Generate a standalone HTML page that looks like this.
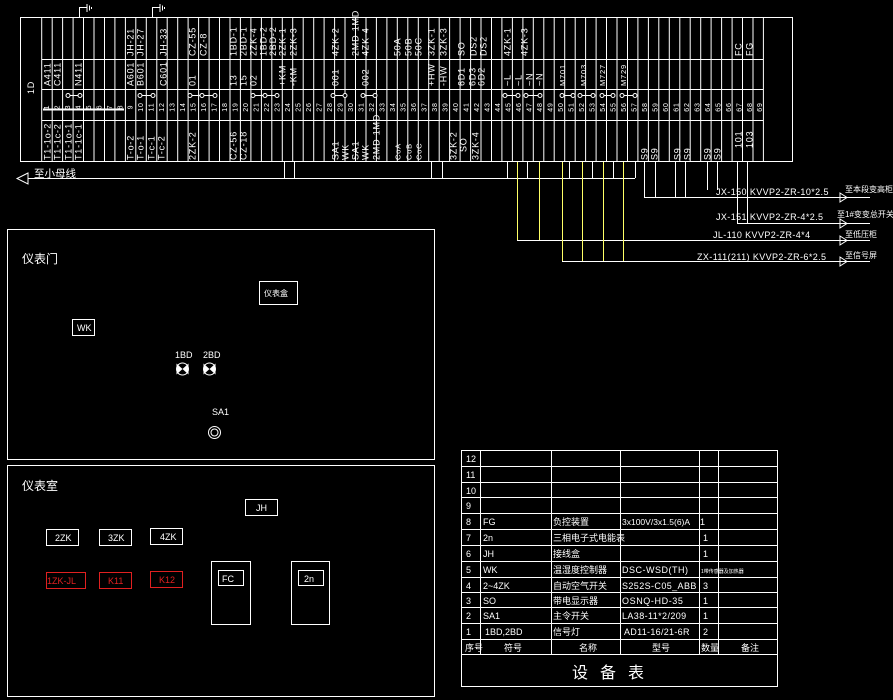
<!DOCTYPE html>
<html><head><meta charset="utf-8"><style>
html,body{margin:0;padding:0;background:#000;}
svg{display:block;}
text{font-family:"Liberation Sans","Noto Sans CJK SC",sans-serif;fill:#fff;}
.rl text{letter-spacing:0.8px;}
</style></head><body>
<svg width="893" height="700" viewBox="0 0 893 700" xmlns="http://www.w3.org/2000/svg">
<rect width="893" height="700" fill="#000"/>
<g stroke="#fff" stroke-width="1" fill="none">
<rect x="20.5" y="17.5" width="772" height="144"/>
<path d="M41.7 17V162M52.2 17V162M62.6 17V162M73.1 17V162M83.5 17V162M94 17V162M104.5 17V162M114.9 17V162M125.4 17V162M135.8 17V162M146.3 17V162M156.8 17V162M167.2 17V162M177.7 17V162M188.1 17V162M198.6 17V162M209.1 17V162M219.5 17V162M230 17V162M240.4 17V162M250.9 17V162M261.4 17V162M271.8 17V162M282.3 17V162M292.7 17V162M303.2 17V162M313.7 17V162M324.1 17V162M334.6 17V162M345 17V162M355.5 17V162M366 17V162M376.4 17V162M386.9 17V162M397.3 17V162M407.8 17V162M418.3 17V162M428.7 17V162M439.2 17V162M449.6 17V162M460.1 17V162M470.6 17V162M481 17V162M491.5 17V162M501.9 17V162M512.4 17V162M522.9 17V162M533.3 17V162M543.8 17V162M554.2 17V162M564.7 17V162M575.2 17V162M585.6 17V162M596.1 17V162M606.5 17V162M617 17V162M627.5 17V162M637.9 17V162M648.4 17V162M658.8 17V162M669.3 17V162M679.8 17V162M690.2 17V162M700.7 17V162M711.1 17V162M721.6 17V162M732.1 17V162M742.5 17V162M753 17V162M763.4 17V162"/>
<path d="M41.7 59.5H763.4M41.7 89.5H763.4M41.7 120.5H763.4"/>
<path d="M79.5 17V7.5H87M87 4V12M89.5 5.5V10.5M91.5 7V9M152.5 17V7.5H160M160 4V12M162.5 5.5V10.5M164.5 7V9"/>
<path d="M43 109.5H124" stroke-width="2"/>
<path d="M68 95.5H80M140 95.5H153M190 95.5H215M253 95.5H277M333 95.5H345M363 95.5H375M505 95.5H518M526 95.5H540M562 95.5H573M580 95.5H593M602 95.5H613M622 95.5H635"/>
<g fill="#000">
<circle cx="68" cy="95.5" r="2"/><circle cx="80" cy="95.5" r="2"/><circle cx="140" cy="95.5" r="2"/><circle cx="153" cy="95.5" r="2"/>
<circle cx="190" cy="95.5" r="2"/><circle cx="202" cy="95.5" r="2"/><circle cx="215" cy="95.5" r="2"/>
<circle cx="253" cy="95.5" r="2"/><circle cx="265" cy="95.5" r="2"/><circle cx="277" cy="95.5" r="2"/>
<circle cx="333" cy="95.5" r="2"/><circle cx="345" cy="95.5" r="2"/><circle cx="363" cy="95.5" r="2"/><circle cx="375" cy="95.5" r="2"/>
<circle cx="505" cy="95.5" r="2"/><circle cx="518" cy="95.5" r="2"/><circle cx="526" cy="95.5" r="2"/><circle cx="540" cy="95.5" r="2"/>
<circle cx="562" cy="95.5" r="2"/><circle cx="573" cy="95.5" r="2"/><circle cx="580" cy="95.5" r="2"/><circle cx="593" cy="95.5" r="2"/>
<circle cx="602" cy="95.5" r="2"/><circle cx="613" cy="95.5" r="2"/><circle cx="622" cy="95.5" r="2"/><circle cx="635" cy="95.5" r="2"/>
</g>
<path d="M28 178.5H520M284.5 162V178M294.5 162V178M431.5 162V178M442.5 162V178"/>
<path d="M28 173L17 178.5L28 184Z"/>
<path d="M443 178.5H635M507.5 162V178M527.5 162V178M569.5 162V178M592.5 162V178M613.5 162V178M635.5 162V178"/>
<path d="M644.5 162V197.5H870M655.5 162V197M675.5 162V197M685.5 162V197M707.5 162V190M717.5 162V190"/>
<path d="M737.5 162V223.5H870M747.5 162V223"/>
<path d="M517 240.5H870M562 261.5H870"/>
<path d="M840 193l7 4.5l-7 4.5zM840 219l7 4.5l-7 4.5zM840 236l7 4.5l-7 4.5zM840 257l7 4.5l-7 4.5z"/>
</g>
<g stroke="#ffff66" stroke-width="1" fill="none">
<path d="M517.5 162V240M539.5 162V240M562.5 162V261M582.5 162V261M603.5 162V261M623.5 162V261"/>
</g>
<g font-size="9" class="rl">
<text transform="translate(34,94) rotate(-90)">1D</text>
<g text-anchor="start">
<text transform="translate(133.5,56) rotate(-90)">JH-21</text>
<text transform="translate(143.5,56) rotate(-90)">JH-27</text>
<text transform="translate(166.5,56) rotate(-90)">JH-33</text>
<text transform="translate(195.5,56) rotate(-90)">CZ-55</text>
<text transform="translate(206.5,56) rotate(-90)">CZ-8</text>
<text transform="translate(236.5,56) rotate(-90)">1BD-1</text>
<text transform="translate(246.5,56) rotate(-90)">2BD-1</text>
<text transform="translate(256.5,56) rotate(-90)">2ZK-4</text>
<text transform="translate(266.5,56) rotate(-90)">1BD-2</text>
<text transform="translate(276,56) rotate(-90)">2BD-2</text>
<text transform="translate(285.5,56) rotate(-90)">2ZK-1</text>
<text transform="translate(296.5,56) rotate(-90)">2ZK-3</text>
<text transform="translate(338.5,56) rotate(-90)">4ZK-2</text>
<text transform="translate(358.5,56) rotate(-90)" letter-spacing="0">2MD 1MD</text>
<text transform="translate(368.5,56) rotate(-90)">4ZK-4</text>
<text transform="translate(400.5,56) rotate(-90)">50A</text>
<text transform="translate(411.5,56) rotate(-90)">50B</text>
<text transform="translate(421.5,56) rotate(-90)">50C</text>
<text transform="translate(434.5,56) rotate(-90)">3ZK-1</text>
<text transform="translate(446.5,56) rotate(-90)">3ZK-3</text>
<text transform="translate(464.5,56) rotate(-90)">SO</text>
<text transform="translate(476.5,56) rotate(-90)">DS2</text>
<text transform="translate(486.5,56) rotate(-90)">DS2</text>
<text transform="translate(510.5,56) rotate(-90)">4ZK-1</text>
<text transform="translate(527.5,56) rotate(-90)">4ZK-3</text>
<text transform="translate(741.5,56) rotate(-90)">FC</text>
<text transform="translate(752.5,56) rotate(-90)">FG</text>
<text transform="translate(50.5,86) rotate(-90)">A411</text>
<text transform="translate(60.5,86) rotate(-90)">C411</text>
<text transform="translate(81.5,86) rotate(-90)">N411</text>
<text transform="translate(133.5,86) rotate(-90)">A601</text>
<text transform="translate(143.5,86) rotate(-90)">B601</text>
<text transform="translate(166.5,86) rotate(-90)">C601</text>
<text transform="translate(195.5,86) rotate(-90)">01</text>
<text transform="translate(236.5,86) rotate(-90)">13</text>
<text transform="translate(246.5,86) rotate(-90)">15</text>
<text transform="translate(256.5,86) rotate(-90)">02</text>
<text transform="translate(285.5,86) rotate(-90)">+KM</text>
<text transform="translate(296.5,86) rotate(-90)">-KM</text>
<text transform="translate(338.5,86) rotate(-90)">001</text>
<text transform="translate(368.5,86) rotate(-90)">002</text>
<text transform="translate(434.5,86) rotate(-90)">+HW</text>
<text transform="translate(446.5,86) rotate(-90)">-HW</text>
<text transform="translate(464.5,86) rotate(-90)">6D1</text>
<text transform="translate(475.5,86) rotate(-90)">6D3</text>
<text transform="translate(484.5,86) rotate(-90)">6D2</text>
<text transform="translate(510.5,86) rotate(-90)">~L</text>
<text transform="translate(521.5,86) rotate(-90)">~L</text>
<text transform="translate(532.5,86) rotate(-90)">~N</text>
<text transform="translate(542.5,86) rotate(-90)">~N</text>
<text transform="translate(565,86) rotate(-90)" font-size="7.5">M701</text>
<text transform="translate(586,86) rotate(-90)" font-size="7.5">M703</text>
<text transform="translate(605,86) rotate(-90)" font-size="7.5">M727</text>
<text transform="translate(626,86) rotate(-90)" font-size="7.5">M729</text>
<text transform="translate(50.5,160) rotate(-90)">T1-1o-2</text>
<text transform="translate(60.5,160) rotate(-90)">T1-1c-2</text>
<text transform="translate(71.5,160) rotate(-90)">T1-1o-1</text>
<text transform="translate(81.5,160) rotate(-90)">T1-1c-1</text>
<text transform="translate(133.5,160) rotate(-90)">T-o-2</text>
<text transform="translate(143.5,160) rotate(-90)">T-o-1</text>
<text transform="translate(154.5,160) rotate(-90)">T-c-1</text>
<text transform="translate(164.5,160) rotate(-90)">T-c-2</text>
<text transform="translate(195.5,160) rotate(-90)">2ZK-2</text>
<text transform="translate(236.5,160) rotate(-90)">CZ-56</text>
<text transform="translate(246.5,160) rotate(-90)">CZ-18</text>
<text transform="translate(338.5,160) rotate(-90)">SA1</text>
<text transform="translate(348.5,160) rotate(-90)">WK</text>
<text transform="translate(358.5,160) rotate(-90)">SA1</text>
<text transform="translate(368.5,160) rotate(-90)">WK</text>
<text transform="translate(379.5,160) rotate(-90)" letter-spacing="0">2MD 1MD</text>
<text transform="translate(400.5,160) rotate(-90)" font-size="7.5">CoA</text>
<text transform="translate(411.5,160) rotate(-90)" font-size="7.5">CoB</text>
<text transform="translate(421.5,160) rotate(-90)" font-size="7.5">CoC</text>
<text transform="translate(456.5,160) rotate(-90)">3ZK-2</text>
<text transform="translate(466.5,152) rotate(-90)">SO</text>
<text transform="translate(478.5,160) rotate(-90)">3ZK-4</text>
<text transform="translate(647.5,160) rotate(-90)">S9</text>
<text transform="translate(657.5,160) rotate(-90)">S9</text>
<text transform="translate(680.5,160) rotate(-90)">S9</text>
<text transform="translate(690.5,160) rotate(-90)">S9</text>
<text transform="translate(710.5,160) rotate(-90)">S9</text>
<text transform="translate(720.5,160) rotate(-90)">S9</text>
<text transform="translate(741.5,148) rotate(-90)">101</text>
<text transform="translate(752.5,148) rotate(-90)">103</text>
</g>
<g font-size="7" text-anchor="middle" letter-spacing="0">
<text transform="translate(49,107) rotate(-90)">1</text><text transform="translate(59.5,107) rotate(-90)">2</text><text transform="translate(70,107) rotate(-90)">3</text><text transform="translate(80.5,107) rotate(-90)">4</text><text transform="translate(91,107) rotate(-90)">5</text><text transform="translate(101.5,107) rotate(-90)">6</text><text transform="translate(112,107) rotate(-90)">7</text><text transform="translate(122.5,107) rotate(-90)">8</text><text transform="translate(132.5,107) rotate(-90)">9</text><text transform="translate(143,107) rotate(-90)">10</text>
<text transform="translate(153.5,107) rotate(-90)">11</text><text transform="translate(164,107) rotate(-90)">12</text><text transform="translate(174.5,107) rotate(-90)">13</text><text transform="translate(185,107) rotate(-90)">14</text><text transform="translate(195.5,107) rotate(-90)">15</text><text transform="translate(206,107) rotate(-90)">16</text><text transform="translate(216.5,107) rotate(-90)">17</text><text transform="translate(227,107) rotate(-90)">18</text><text transform="translate(237.5,107) rotate(-90)">19</text><text transform="translate(248,107) rotate(-90)">20</text>
<text transform="translate(258.5,107) rotate(-90)">21</text><text transform="translate(269,107) rotate(-90)">22</text><text transform="translate(279.5,107) rotate(-90)">23</text><text transform="translate(290,107) rotate(-90)">24</text><text transform="translate(300.5,107) rotate(-90)">25</text><text transform="translate(311,107) rotate(-90)">26</text><text transform="translate(321.5,107) rotate(-90)">27</text><text transform="translate(332,107) rotate(-90)">28</text><text transform="translate(342.5,107) rotate(-90)">29</text><text transform="translate(353,107) rotate(-90)">30</text>
<text transform="translate(363.5,107) rotate(-90)">31</text><text transform="translate(374,107) rotate(-90)">32</text><text transform="translate(384.5,107) rotate(-90)">33</text><text transform="translate(395,107) rotate(-90)">34</text><text transform="translate(405.5,107) rotate(-90)">35</text><text transform="translate(416,107) rotate(-90)">36</text><text transform="translate(426.5,107) rotate(-90)">37</text><text transform="translate(437,107) rotate(-90)">38</text><text transform="translate(447.5,107) rotate(-90)">39</text><text transform="translate(458,107) rotate(-90)">40</text>
<text transform="translate(468.5,107) rotate(-90)">41</text><text transform="translate(479,107) rotate(-90)">42</text><text transform="translate(489.5,107) rotate(-90)">43</text><text transform="translate(500,107) rotate(-90)">44</text><text transform="translate(510.5,107) rotate(-90)">45</text><text transform="translate(521,107) rotate(-90)">46</text><text transform="translate(531.5,107) rotate(-90)">47</text><text transform="translate(542,107) rotate(-90)">48</text><text transform="translate(552.5,107) rotate(-90)">49</text><text transform="translate(563,107) rotate(-90)">50</text>
<text transform="translate(573.5,107) rotate(-90)">51</text><text transform="translate(584,107) rotate(-90)">52</text><text transform="translate(594.5,107) rotate(-90)">53</text><text transform="translate(605,107) rotate(-90)">54</text><text transform="translate(615.5,107) rotate(-90)">55</text><text transform="translate(626,107) rotate(-90)">56</text><text transform="translate(636.5,107) rotate(-90)">57</text><text transform="translate(647,107) rotate(-90)">58</text><text transform="translate(657.5,107) rotate(-90)">59</text><text transform="translate(668,107) rotate(-90)">60</text>
<text transform="translate(678.5,107) rotate(-90)">61</text><text transform="translate(689,107) rotate(-90)">62</text><text transform="translate(699.5,107) rotate(-90)">63</text><text transform="translate(710,107) rotate(-90)">64</text><text transform="translate(720.5,107) rotate(-90)">65</text><text transform="translate(731,107) rotate(-90)">66</text><text transform="translate(741.5,107) rotate(-90)">67</text><text transform="translate(752,107) rotate(-90)">68</text><text transform="translate(762,107) rotate(-90)">69</text>
</g>
</g>
<text x="34" y="177" font-size="10.5">至小母线</text>
<g font-size="9" letter-spacing="0.4">
<text x="716" y="195">JX-150 KVVP2-ZR-10*2.5</text>
<text x="845" y="192" font-size="8" letter-spacing="0">至本段变高柜</text>
<text x="716" y="220">JX-151 KVVP2-ZR-4*2.5</text>
<text x="837" y="217" font-size="8" letter-spacing="0">至1#变变总开关</text>
<text x="713" y="238">JL-110  KVVP2-ZR-4*4</text>
<text x="845" y="237" font-size="8" letter-spacing="0">至低压柜</text>
<text x="697" y="260">ZX-111(211)  KVVP2-ZR-6*2.5</text>
<text x="845" y="258" font-size="8" letter-spacing="0">至信号屏</text>
</g>
<g stroke="#fff" fill="none">
<rect x="7.5" y="229.5" width="427" height="230"/>
<rect x="7.5" y="465.5" width="427" height="231"/>
<rect x="259.5" y="281.5" width="38" height="23"/>
<rect x="72.5" y="319.5" width="22" height="16"/>
<circle cx="182.5" cy="369" r="6"/>
<circle cx="209.5" cy="369" r="6"/>
<circle cx="214.5" cy="432.5" r="6"/>
<circle cx="214.5" cy="432.5" r="3.5"/>
<rect x="245.5" y="499.5" width="32" height="16"/>
<rect x="46.5" y="529.5" width="32" height="16"/>
<rect x="99.5" y="529.5" width="32" height="16"/>
<rect x="150.5" y="528.5" width="32" height="16"/>
<rect x="211.5" y="561.5" width="39" height="63"/>
<rect x="218.5" y="570.5" width="25" height="15"/>
<rect x="291.5" y="561.5" width="38" height="63"/>
<rect x="298.5" y="570.5" width="25" height="15"/>
</g>
<g fill="#fff">
<path d="M176.5 363.5L182.5 369L176.5 374.5ZM188.5 363.5L182.5 369L188.5 374.5Z"/>
<path d="M203.5 363.5L209.5 369L203.5 374.5ZM215.5 363.5L209.5 369L215.5 374.5Z"/>
</g>
<g stroke="#e02020" fill="none">
<rect x="46.5" y="572.5" width="39" height="16"/>
<rect x="99.5" y="572.5" width="32" height="16"/>
<rect x="150.5" y="571.5" width="32" height="16"/>
</g>
<g font-size="12">
<text x="22" y="263">仪表门</text>
<text x="22" y="490">仪表室</text>
</g>
<g font-size="9">
<text x="264" y="296" font-size="8">仪表盒</text>
<text x="77" y="331">WK</text>
<text x="175" y="358">1BD</text>
<text x="203" y="358">2BD</text>
<text x="212" y="415">SA1</text>
<text x="256" y="511">JH</text>
<text x="55" y="541">2ZK</text>
<text x="108" y="541">3ZK</text>
<text x="160" y="540">4ZK</text>
<text x="222" y="582">FC</text>
<text x="304" y="582">2n</text>
</g>
<g font-size="9">
<text x="47" y="584" style="fill:#e02020">1ZK-JL</text>
<text x="108" y="584" style="fill:#e02020">K11</text>
<text x="159" y="583" style="fill:#e02020">K12</text>
</g>
<g stroke="#fff" fill="none">
<rect x="461.5" y="450.5" width="316" height="236"/>
<path d="M462 466.5H778M462 482.5H778M462 497.5H778M462 513.5H778M462 529.5H778M462 545.5H778M462 561.5H778M462 577.5H778M462 592.5H778M462 607.5H778M462 623.5H778M462 639.5H778M462 654.5H778"/>
<path d="M480.5 450V654M551.5 450V654M620.5 450V654M699.5 450V654M718.5 450V654"/>
</g>
<g font-size="9">
<text x="466" y="462">12</text>
<text x="466" y="478">11</text>
<text x="466" y="494">10</text>
<text x="466" y="509">9</text>
<text x="466" y="525">8</text><text x="483" y="525">FG</text><text x="553" y="525">负控装置</text><text x="622" y="525" font-size="8.5">3x100V/3x1.5(6)A</text><text x="700" y="525">1</text>
<text x="466" y="541">7</text><text x="483" y="541">2n</text><text x="553" y="541">三相电子式电能表</text><text x="703" y="541">1</text>
<text x="466" y="557">6</text><text x="483" y="557">JH</text><text x="553" y="557">接线盒</text><text x="703" y="557">1</text>
<text x="466" y="573">5</text><text x="483" y="573">WK</text><text x="553" y="573">温湿度控制器</text><text x="622" y="573" letter-spacing="0.5">DSC-WSD(TH)</text><text x="701" y="573" font-size="5">1带传感器及加热器</text>
<text x="466" y="589">4</text><text x="483" y="589">2~4ZK</text><text x="553" y="589">自动空气开关</text><text x="622" y="589" letter-spacing="0.4">S252S-C05_ABB</text><text x="703" y="589">3</text>
<text x="466" y="604">3</text><text x="483" y="604">SO</text><text x="553" y="604">带电显示器</text><text x="622" y="604" letter-spacing="0.6">OSNQ-HD-35</text><text x="703" y="604">1</text>
<text x="466" y="619">2</text><text x="483" y="619">SA1</text><text x="553" y="619">主令开关</text><text x="622" y="619" letter-spacing="0.4">LA38-11*2/209</text><text x="703" y="619">1</text>
<text x="466" y="635">1</text><text x="485" y="635">1BD,2BD</text><text x="553" y="635">信号灯</text><text x="624" y="635" letter-spacing="0.3">AD11-16/21-6R</text><text x="703" y="635">2</text>
<text x="465" y="651">序号</text><text x="504" y="651">符号</text><text x="579" y="651">名称</text><text x="652" y="651">型号</text><text x="701" y="651">数量</text><text x="741" y="651">备注</text>
</g>
<text x="572" y="678" font-size="16" letter-spacing="12">设备表</text>
</svg>
</body></html>
